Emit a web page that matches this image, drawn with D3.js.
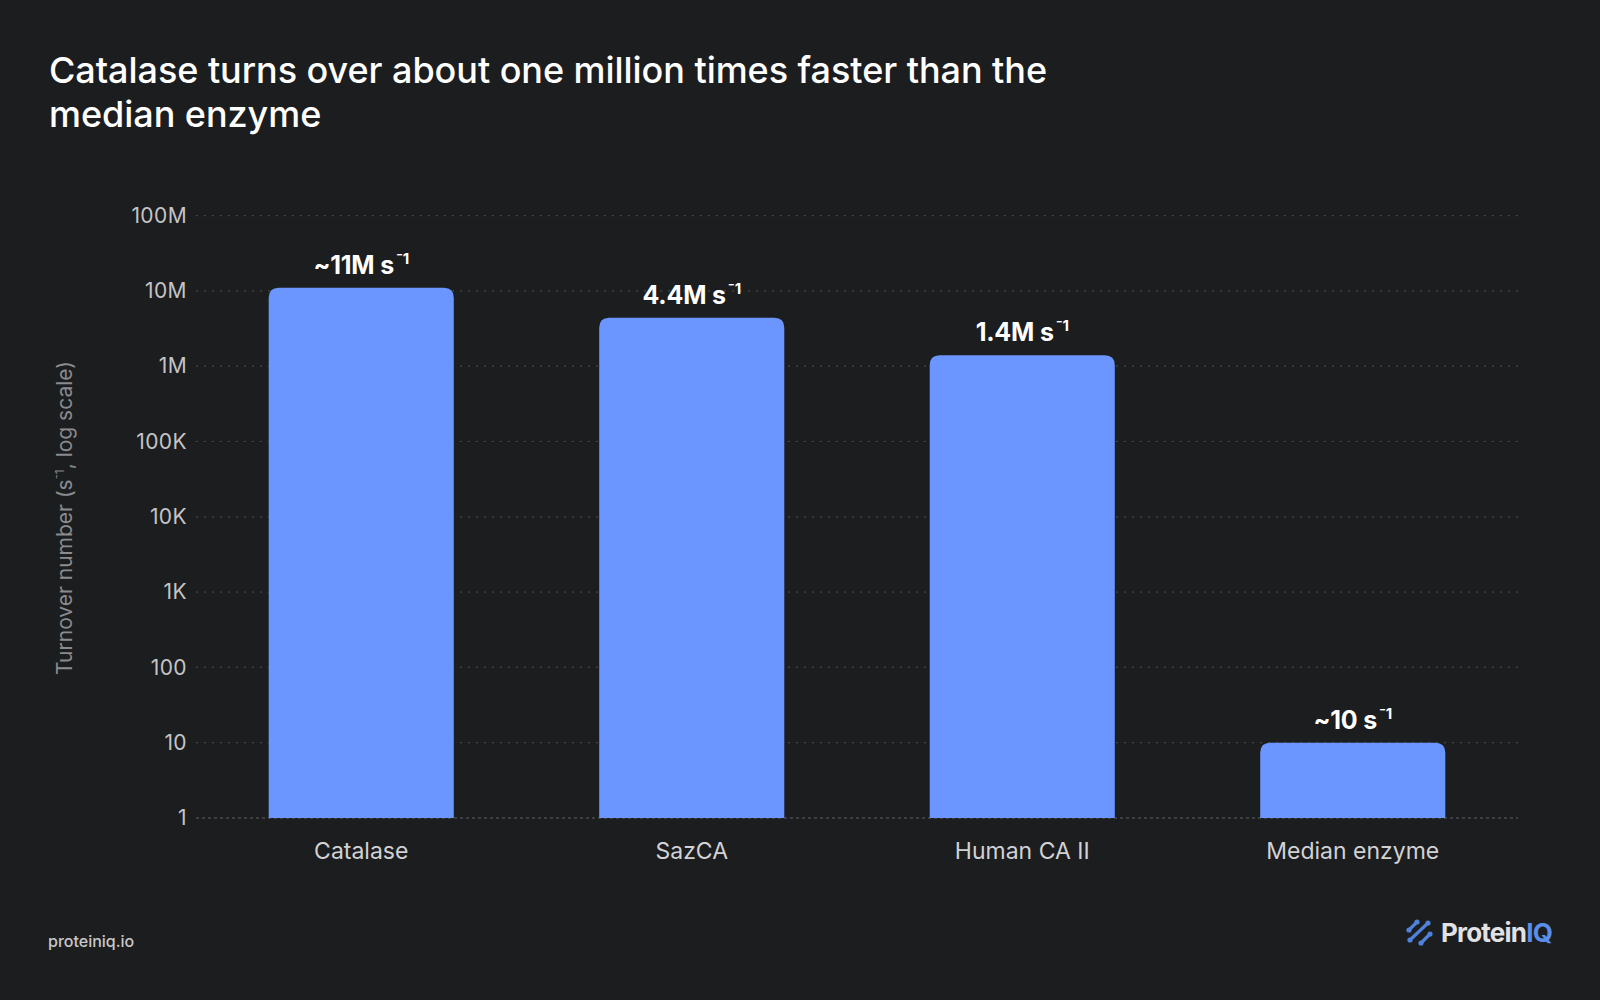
<!DOCTYPE html>
<html lang="en">
  <head>
    <meta charset="utf-8"/>
    <title>Catalase turnover</title>
    <script src="https://d3js.org/d3.v7.min.js"></script>
    <style>
      html, body { margin: 0; padding: 0; background: #1c1d1f; }
      svg { display: block; font-family: Inter, "Noto Sans", sans-serif; }
    </style>
  </head>
  <body>
    <div id="chart"></div>
    <script>
    // data
    var enzymes = ["Catalase", "SazCA", "Human CA II", "Median enzyme"];
    var turnover = [11e6, 4.4e6, 1.4e6, 10];
    var valueLabels = ["~11M", "4.4M", "1.4M", "~10"];
    var tickValues = [1, 10, 100, 1e3, 1e4, 1e5, 1e6, 1e7, 1e8];
    var tickLabels = ["1", "10", "100", "1K", "10K", "100K", "1M", "10M", "100M"];

    var width = 1600, height = 1000;
    var plotLeft = 196, plotRight = 1518, plotTop = 215.6, plotBottom = 818;

    var svg = d3.select("#chart").append("svg")
        .attr("width", width)
        .attr("height", height);

    svg.append("rect").attr("width", width).attr("height", height).attr("fill", "#1c1d1f");

    // title
    var title = svg.append("text")
        .attr("fill", "#ffffff")
        .attr("font-size", 36)
        .attr("font-weight", 500)
        .attr("letter-spacing", "-0.05px");
    title.append("tspan").attr("x", 49).attr("y", 83).text("Catalase turns over about one million times faster than the");
    title.append("tspan").attr("x", 49).attr("y", 127).text("median enzyme");

    var x = d3.scaleBand()
        .domain(enzymes)
        .range([plotLeft, plotRight])
        .paddingInner(0.44)
        .paddingOuter(0.22);

    var y = d3.scaleLog()
        .domain([1, 1e8])
        .range([plotBottom, plotTop]);

    // gridlines
    svg.append("g").selectAll("line")
        .data(tickValues)
        .join("line")
        .attr("x1", plotLeft)
        .attr("x2", plotRight)
        .attr("y1", function(d) { return y(d); })
        .attr("y2", function(d) { return y(d); })
        .attr("stroke", function(d) { return d === 1 ? "#4a4b4e" : "#45464a"; })
        .attr("stroke-width", function(d) { return d === 1 ? 1.5 : 1.2; })
        .attr("stroke-dasharray", function(d) { return d === 1 ? "3,3" : "2,6"; });

    // y axis tick labels
    var yAxis = d3.axisLeft(y)
        .tickValues(tickValues)
        .tickFormat(function(d, i) { return tickLabels[i]; })
        .tickSize(0)
        .tickPadding(0);
    var gy = svg.append("g")
        .attr("transform", "translate(187,0)")
        .call(yAxis);
    gy.select(".domain").remove();
    gy.selectAll("text")
        .attr("fill", "#c4c4c6")
        .attr("font-size", 21)
        .attr("font-family", "Inter, sans-serif")
        .attr("letter-spacing", "0.4px");

    // bars: rounded top corners only
    var r = 10;
    function barPath(d, i) {
      var x0 = x(enzymes[i]), x1 = x0 + x.bandwidth();
      var y0 = y(d), y1 = y(1);
      return "M" + x0 + "," + y1 +
        "L" + x0 + "," + (y0 + r) +
        "Q" + x0 + "," + y0 + " " + (x0 + r) + "," + y0 +
        "L" + (x1 - r) + "," + y0 +
        "Q" + x1 + "," + y0 + " " + x1 + "," + (y0 + r) +
        "L" + x1 + "," + y1 + "Z";
    }
    svg.append("g").selectAll("path")
        .data(turnover)
        .join("path")
        .attr("d", barPath)
        .attr("fill", "#6b96ff");

    // value labels
    var labels = svg.append("g").selectAll("text")
        .data(turnover)
        .join("text")
        .attr("x", function(d, i) { return x(enzymes[i]) + x.bandwidth() / 2; })
        .attr("y", function(d) { return y(d) - 14; })
        .attr("text-anchor", "middle")
        .attr("fill", "#ffffff")
        .attr("font-size", 25)
        .attr("font-weight", 700)
        .attr("letter-spacing", "-0.2px");
    labels.append("tspan").text(function(d, i) { return valueLabels[i] + " s"; });
    labels.append("tspan").attr("font-size", 15).attr("dx", 2).attr("dy", -10).text("\u207B1");

    // x axis labels
    var xAxis = d3.axisBottom(x).tickSize(0).tickPadding(0);
    var gx = svg.append("g")
        .attr("transform", "translate(0,859)")
        .call(xAxis);
    gx.select(".domain").remove();
    gx.selectAll("text")
        .attr("dy", 0)
        .attr("fill", "#d2d2d4")
        .attr("font-size", 23)
        .attr("font-family", "Inter, sans-serif");

    // y axis title
    var yt = svg.append("text")
        .attr("transform", "translate(72,518) rotate(-90)")
        .attr("text-anchor", "middle")
        .attr("fill", "#8a8b8e")
        .attr("font-size", 21);
    yt.append("tspan").text("Turnover number (s");
    yt.append("tspan").attr("font-size", 12).attr("dy", -8).text("\u207B1");
    yt.append("tspan").attr("dy", 8).text(", log scale)");

    // footer
    svg.append("text")
        .attr("x", 48)
        .attr("y", 947)
        .attr("fill", "#c8c8ca")
        .attr("font-size", 16)
        .attr("font-weight", 500)
        .text("proteiniq.io");

    // logo
    var logo = svg.append("g").attr("transform", "translate(1407,920)");
    var strokes = [[2, 10, 10, 2], [3, 20, 21, 3], [14, 23, 23, 14]];
    logo.selectAll("line")
        .data(strokes)
        .join("line")
        .attr("x1", function(d) { return d[0]; })
        .attr("y1", function(d) { return d[1]; })
        .attr("x2", function(d) { return d[2]; })
        .attr("y2", function(d) { return d[3]; })
        .attr("stroke", "#4f82dc")
        .attr("stroke-width", 3.2)
        .attr("stroke-linecap", "round");
    var dots = [[2, 10], [10, 2], [3, 20], [21, 3], [14, 23], [23, 14]];
    logo.selectAll("circle")
        .data(dots)
        .join("circle")
        .attr("cx", function(d) { return d[0]; })
        .attr("cy", function(d) { return d[1]; })
        .attr("r", 2.6)
        .attr("fill", "#4f82dc");
    var brand = svg.append("text")
        .attr("x", 1441)
        .attr("y", 942)
        .attr("font-size", 26)
        .attr("font-weight", 700)
        .attr("letter-spacing", "-0.8px");
    brand.append("tspan").attr("fill", "#e2e2e4").text("Protein");
    brand.append("tspan").attr("fill", "#5b8ee8").text("IQ");
    </script>
  </body>
</html>
